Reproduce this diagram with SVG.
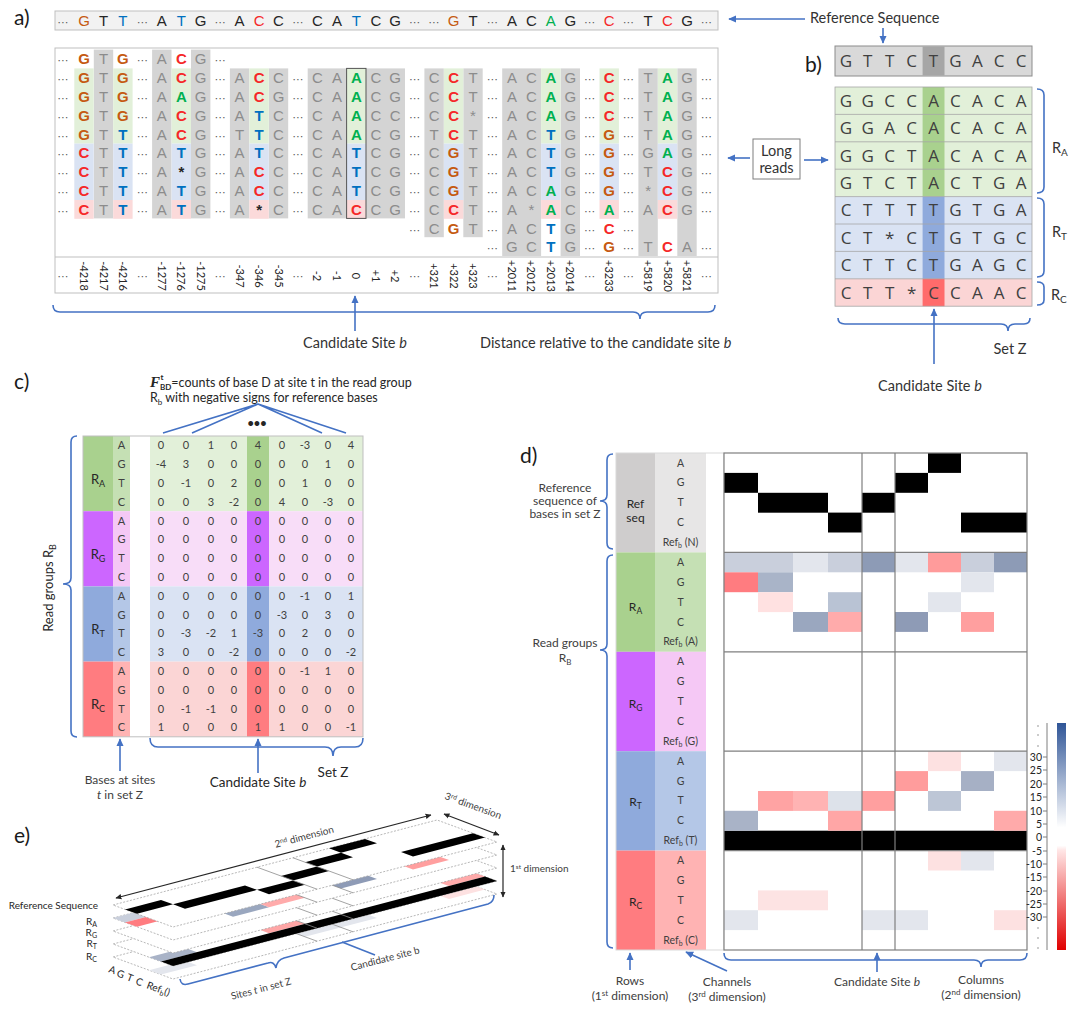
<svg xmlns="http://www.w3.org/2000/svg" width="1080" height="1014" viewBox="0 0 1080 1014">
<defs>
<style>
text{font-family:"Lato","Liberation Sans",sans-serif;fill:#262626}
.sq{font-family:"Liberation Sans",Arial,sans-serif;font-size:15px;text-anchor:middle;fill:#8C8C8C}
.rs{fill:#262626}
.a{fill:#00B050;font-weight:bold}
.c{fill:#F52828;font-weight:bold}
.g{fill:#C55A11;font-weight:bold}
.t{fill:#0070C0;font-weight:bold}
.k{fill:#262626;font-weight:bold}
.rs .a,.rs .c,.rs .g,.rs .t{font-weight:normal}
.d{font-family:"DejaVu Sans",sans-serif;font-size:11px;fill:#595959;font-weight:normal}
.ax{font-family:"Liberation Sans",sans-serif;font-size:11px;fill:#595959;text-anchor:middle}
.pn{font-size:21px;fill:#1a1a1a}
.lb{font-size:14.5px;fill:#333}
.bq{font-family:"Open Sans",sans-serif;font-size:17px;fill:#404040;text-anchor:middle}
.cn{font-size:11px;fill:#404040;text-anchor:middle}
.dl{font-size:10.5px;fill:#404040;text-anchor:middle}
.sm{font-size:12px;fill:#404040;text-anchor:middle}
.el{font-size:10px;fill:#404040}
.bl{stroke:#4472C4;stroke-width:1.6;fill:none}
.ar{stroke:#4472C4;stroke-width:1.6;fill:none;marker-end:url(#ab)}
.pl{fill:#ffffff;stroke:#A6A6A6;stroke-width:0.8;stroke-dasharray:2 1.5}
.cl{stroke:#8C8C8C;stroke-width:0.8}
.gl{stroke:#7F7F7F;stroke-width:1.2;fill:none}
</style>
<marker id="ab" viewBox="0 0 10 10" refX="9" refY="5" markerWidth="5" markerHeight="5" orient="auto-start-reverse"><path d="M0,0.5 L10,5 L0,9.5 z" fill="#4472C4"/></marker>
<marker id="ak" viewBox="0 0 10 10" refX="9" refY="5" markerWidth="5" markerHeight="5" orient="auto-start-reverse"><path d="M0,0.5 L10,5 L0,9.5 z" fill="#262626"/></marker>
<g id="vc"><rect x="0" y="68.4" width="19.4" height="75.2" fill="#E2F0D9"/><rect x="0" y="143.6" width="19.4" height="56.4" fill="#DAE3F3"/><rect x="0" y="200" width="19.4" height="18.8" fill="#FBDADA"/></g>
<linearGradient id="cb" x1="0" y1="0" x2="0" y2="1"><stop offset="0" stop-color="#2F5597"/><stop offset="0.46" stop-color="#FFFFFF"/><stop offset="0.54" stop-color="#FFFFFF"/><stop offset="0.56" stop-color="#FFE6E6"/><stop offset="1" stop-color="#E00000"/></linearGradient>
</defs>
<rect width="1080" height="1014" fill="#ffffff"/>

<!-- Panel a -->
<g id="panel-a">
<text class="pn" x="14" y="25">a)</text>
<g id="ref-seq-a">
<rect x="55" y="11" width="663" height="19" fill="#F2F2F2" stroke="#BFBFBF"/>
<text class="sq rs" y="26" x="63 84 103.5 122.9 142.4 161.8 181.3 200.7 220.2 239.6 259.1 278.5 298 317.4 336.9 356.3 375.8 395.2 414.7 434.1 453.6 473 492.5 511.9 531.4 550.8 570.3 589.7 609.2 628.6 648.1 667.5 687 706.4"><tspan class="d">⋯</tspan><tspan class="g">G</tspan>T<tspan class="t">T</tspan><tspan class="d">⋯</tspan>A<tspan class="t">T</tspan>G<tspan class="d">⋯</tspan>A<tspan class="c">C</tspan>C<tspan class="d">⋯</tspan>CA<tspan class="t">T</tspan>CG<tspan class="d">⋯⋯</tspan><tspan class="g">G</tspan>T<tspan class="d">⋯</tspan>AC<tspan class="a">A</tspan>G<tspan class="d">⋯</tspan><tspan class="c">C</tspan><tspan class="d">⋯</tspan>T<tspan class="c">C</tspan>G<tspan class="d">⋯</tspan></text>
</g>
<g id="reads-a">
<rect x="55" y="48" width="663" height="245" fill="#ffffff" stroke="#BFBFBF"/>
<g fill="#D4D4D4">
<rect x="93.8" y="49.6" width="19.4" height="168.8"/>
<rect x="152.1" y="49.6" width="19.4" height="168.8"/>
<rect x="191" y="49.6" width="19.4" height="168.8"/>
<rect x="229.9" y="68.4" width="19.4" height="150"/>
<rect x="268.8" y="68.4" width="19.4" height="150"/>
<rect x="307.7" y="68.4" width="38.9" height="150"/>
<rect x="366.1" y="68.4" width="38.9" height="150"/>
<rect x="424.4" y="68.4" width="19.4" height="168.8"/>
<rect x="463.3" y="68.4" width="19.4" height="168.8"/>
<rect x="502.2" y="68.4" width="38.9" height="187.6"/>
<rect x="560.6" y="68.4" width="19.4" height="187.6"/>
<rect x="638.4" y="68.4" width="19.4" height="187.6"/>
<rect x="677.3" y="68.4" width="19.4" height="187.6"/>
</g>
<use href="#vc" x="74.3"/><use href="#vc" x="113.2"/><use href="#vc" x="171.6"/><use href="#vc" x="249.4"/><use href="#vc" x="346.6"/><use href="#vc" x="443.9"/><use href="#vc" x="541.1"/><use href="#vc" x="599.5"/><use href="#vc" x="657.8"/>
<rect x="346.6" y="68.4" width="19.4" height="150" fill="none" stroke="#555" stroke-width="1"/>
<text class="sq" y="64.3" x="63 84 103.5 122.9 142.4 161.8 181.3 200.7 220.2"><tspan class="d">⋯</tspan><tspan class="g">G</tspan>T<tspan class="g">G</tspan><tspan class="d">⋯</tspan>A<tspan class="c">C</tspan>G<tspan class="d">⋯</tspan></text>
<text class="sq" y="83.1" x="63 84 103.5 122.9 142.4 161.8 181.3 200.7 220.2 239.6 259.1 278.5 298 317.4 336.9 356.3 375.8 395.2 414.7 434.1 453.6 473 492.5 511.9 531.4 550.8 570.3 589.7 609.2 628.6 648.1 667.5 687 706.4"><tspan class="d">⋯</tspan><tspan class="g">G</tspan>T<tspan class="g">G</tspan><tspan class="d">⋯</tspan>A<tspan class="c">C</tspan>G<tspan class="d">⋯</tspan>A<tspan class="c">C</tspan>C<tspan class="d">⋯</tspan>CA<tspan class="a">A</tspan>CG<tspan class="d">⋯</tspan>C<tspan class="c">C</tspan>T<tspan class="d">⋯</tspan>AC<tspan class="a">A</tspan>G<tspan class="d">⋯</tspan><tspan class="c">C</tspan><tspan class="d">⋯</tspan>T<tspan class="a">A</tspan>G<tspan class="d">⋯</tspan></text>
<text class="sq" y="101.9" x="63 84 103.5 122.9 142.4 161.8 181.3 200.7 220.2 239.6 259.1 278.5 298 317.4 336.9 356.3 375.8 395.2 414.7 434.1 453.6 473 492.5 511.9 531.4 550.8 570.3 589.7 609.2 628.6 648.1 667.5 687 706.4"><tspan class="d">⋯</tspan><tspan class="g">G</tspan>T<tspan class="g">G</tspan><tspan class="d">⋯</tspan>A<tspan class="a">A</tspan>G<tspan class="d">⋯</tspan>A<tspan class="c">C</tspan>G<tspan class="d">⋯</tspan>CA<tspan class="a">A</tspan>CG<tspan class="d">⋯</tspan>C<tspan class="c">C</tspan>T<tspan class="d">⋯</tspan>AC<tspan class="a">A</tspan>G<tspan class="d">⋯</tspan><tspan class="c">C</tspan><tspan class="d">⋯</tspan>T<tspan class="a">A</tspan>G<tspan class="d">⋯</tspan></text>
<text class="sq" y="120.7" x="63 84 103.5 122.9 142.4 161.8 181.3 200.7 220.2 239.6 259.1 278.5 298 317.4 336.9 356.3 375.8 395.2 414.7 434.1 453.6 473 492.5 511.9 531.4 550.8 570.3 589.7 609.2 628.6 648.1 667.5 687 706.4"><tspan class="d">⋯</tspan><tspan class="g">G</tspan>T<tspan class="g">G</tspan><tspan class="d">⋯</tspan>A<tspan class="c">C</tspan>G<tspan class="d">⋯</tspan>A<tspan class="t">T</tspan>C<tspan class="d">⋯</tspan>CA<tspan class="a">A</tspan>CC<tspan class="d">⋯</tspan>C<tspan class="c">C</tspan>*<tspan class="d">⋯</tspan>AC<tspan class="a">A</tspan>G<tspan class="d">⋯</tspan><tspan class="c">C</tspan><tspan class="d">⋯</tspan>T<tspan class="a">A</tspan>G<tspan class="d">⋯</tspan></text>
<text class="sq" y="139.5" x="63 84 103.5 122.9 142.4 161.8 181.3 200.7 220.2 239.6 259.1 278.5 298 317.4 336.9 356.3 375.8 395.2 414.7 434.1 453.6 473 492.5 511.9 531.4 550.8 570.3 589.7 609.2 628.6 648.1 667.5 687 706.4"><tspan class="d">⋯</tspan><tspan class="g">G</tspan>T<tspan class="t">T</tspan><tspan class="d">⋯</tspan>A<tspan class="c">C</tspan>G<tspan class="d">⋯</tspan>T<tspan class="t">T</tspan>C<tspan class="d">⋯</tspan>CA<tspan class="a">A</tspan>CG<tspan class="d">⋯</tspan>T<tspan class="c">C</tspan>T<tspan class="d">⋯</tspan>AC<tspan class="t">T</tspan>G<tspan class="d">⋯</tspan><tspan class="g">G</tspan><tspan class="d">⋯</tspan>T<tspan class="a">A</tspan>G<tspan class="d">⋯</tspan></text>
<text class="sq" y="158.3" x="63 84 103.5 122.9 142.4 161.8 181.3 200.7 220.2 239.6 259.1 278.5 298 317.4 336.9 356.3 375.8 395.2 414.7 434.1 453.6 473 492.5 511.9 531.4 550.8 570.3 589.7 609.2 628.6 648.1 667.5 687 706.4"><tspan class="d">⋯</tspan><tspan class="c">C</tspan>T<tspan class="t">T</tspan><tspan class="d">⋯</tspan>A<tspan class="t">T</tspan>G<tspan class="d">⋯</tspan>A<tspan class="t">T</tspan>C<tspan class="d">⋯</tspan>CA<tspan class="t">T</tspan>CG<tspan class="d">⋯</tspan>C<tspan class="g">G</tspan>T<tspan class="d">⋯</tspan>AC<tspan class="t">T</tspan>G<tspan class="d">⋯</tspan><tspan class="g">G</tspan><tspan class="d">⋯</tspan>G<tspan class="a">A</tspan>G<tspan class="d">⋯</tspan></text>
<text class="sq" y="177.1" x="63 84 103.5 122.9 142.4 161.8 181.3 200.7 220.2 239.6 259.1 278.5 298 317.4 336.9 356.3 375.8 395.2 414.7 434.1 453.6 473 492.5 511.9 531.4 550.8 570.3 589.7 609.2 628.6 648.1 667.5 687 706.4"><tspan class="d">⋯</tspan><tspan class="c">C</tspan>T<tspan class="t">T</tspan><tspan class="d">⋯</tspan>A<tspan class="k">*</tspan>G<tspan class="d">⋯</tspan>A<tspan class="c">C</tspan>C<tspan class="d">⋯</tspan>CA<tspan class="t">T</tspan>CG<tspan class="d">⋯</tspan>C<tspan class="g">G</tspan>T<tspan class="d">⋯</tspan>AC<tspan class="t">T</tspan>G<tspan class="d">⋯</tspan><tspan class="g">G</tspan><tspan class="d">⋯</tspan>T<tspan class="c">C</tspan>G<tspan class="d">⋯</tspan></text>
<text class="sq" y="195.9" x="63 84 103.5 122.9 142.4 161.8 181.3 200.7 220.2 239.6 259.1 278.5 298 317.4 336.9 356.3 375.8 395.2 414.7 434.1 453.6 473 492.5 511.9 531.4 550.8 570.3 589.7 609.2 628.6 648.1 667.5 687 706.4"><tspan class="d">⋯</tspan><tspan class="c">C</tspan>T<tspan class="t">T</tspan><tspan class="d">⋯</tspan>A<tspan class="t">T</tspan>G<tspan class="d">⋯</tspan>A<tspan class="c">C</tspan>C<tspan class="d">⋯</tspan>CA<tspan class="t">T</tspan>CG<tspan class="d">⋯</tspan>C<tspan class="g">G</tspan>T<tspan class="d">⋯</tspan>AC<tspan class="a">A</tspan>G<tspan class="d">⋯</tspan><tspan class="g">G</tspan><tspan class="d">⋯</tspan>*<tspan class="c">C</tspan>G<tspan class="d">⋯</tspan></text>
<text class="sq" y="214.7" x="63 84 103.5 122.9 142.4 161.8 181.3 200.7 220.2 239.6 259.1 278.5 298 317.4 336.9 356.3 375.8 395.2 414.7 434.1 453.6 473 492.5 511.9 531.4 550.8 570.3 589.7 609.2 628.6 648.1 667.5 687 706.4"><tspan class="d">⋯</tspan><tspan class="c">C</tspan>T<tspan class="t">T</tspan><tspan class="d">⋯</tspan>A<tspan class="t">T</tspan>G<tspan class="d">⋯</tspan>A<tspan class="k">*</tspan>C<tspan class="d">⋯</tspan>CA<tspan class="c">C</tspan>CG<tspan class="d">⋯</tspan>C<tspan class="c">C</tspan>T<tspan class="d">⋯</tspan>A*<tspan class="a">A</tspan>C<tspan class="d">⋯</tspan><tspan class="a">A</tspan><tspan class="d">⋯</tspan>A<tspan class="c">C</tspan>G<tspan class="d">⋯</tspan></text>
<text class="sq" y="233.5" x="414.7 434.1 453.6 473 492.5 511.9 531.4 550.8 570.3 589.7 609.2 628.6"><tspan class="d">⋯</tspan>C<tspan class="g">G</tspan>T<tspan class="d">⋯</tspan>AC<tspan class="t">T</tspan>G<tspan class="d">⋯</tspan><tspan class="c">C</tspan><tspan class="d">⋯</tspan></text>
<text class="sq" y="252.3" x="492.5 511.9 531.4 550.8 570.3 589.7 609.2 628.6 648.1 667.5 687 706.4"><tspan class="d">⋯</tspan>GC<tspan class="t">T</tspan>G<tspan class="d">⋯</tspan><tspan class="g">G</tspan><tspan class="d">⋯</tspan>T<tspan class="c">C</tspan>A<tspan class="d">⋯</tspan></text>
<line x1="55" y1="257" x2="718" y2="257" stroke="#BFBFBF"/>
<g class="ax">
<text transform="translate(80,276) rotate(90)">-4218</text>
<text transform="translate(99.5,276) rotate(90)">-4217</text>
<text transform="translate(118.9,276) rotate(90)">-4216</text>
<text transform="translate(157.8,276) rotate(90)">-1277</text>
<text transform="translate(177.3,276) rotate(90)">-1276</text>
<text transform="translate(196.7,276) rotate(90)">-1275</text>
<text transform="translate(235.6,276) rotate(90)">-347</text>
<text transform="translate(255.1,276) rotate(90)">-346</text>
<text transform="translate(274.5,276) rotate(90)">-345</text>
<text transform="translate(313.4,276) rotate(90)">-2</text>
<text transform="translate(332.9,276) rotate(90)">-1</text>
<text transform="translate(352.3,276) rotate(90)">0</text>
<text transform="translate(371.8,276) rotate(90)">+1</text>
<text transform="translate(391.2,276) rotate(90)">+2</text>
<text transform="translate(430.1,276) rotate(90)">+321</text>
<text transform="translate(449.6,276) rotate(90)">+322</text>
<text transform="translate(469,276) rotate(90)">+323</text>
<text transform="translate(507.9,276) rotate(90)">+2011</text>
<text transform="translate(527.4,276) rotate(90)">+2012</text>
<text transform="translate(546.8,276) rotate(90)">+2013</text>
<text transform="translate(566.3,276) rotate(90)">+2014</text>
<text transform="translate(605.2,276) rotate(90)">+3233</text>
<text transform="translate(644.1,276) rotate(90)">+5819</text>
<text transform="translate(663.5,276) rotate(90)">+5820</text>
<text transform="translate(683,276) rotate(90)">+5821</text>
</g>
<text class="d" text-anchor="middle" y="280" x="63 142.4 220.2 298 414.7 492.5 589.7 628.6 706.4">⋯⋯⋯⋯⋯⋯⋯⋯⋯</text>
</g>
<g id="long-reads">
<rect x="753" y="139" width="47" height="40" fill="#ffffff" stroke="#7F7F7F"/>
<text class="lb" x="776.5" y="156" text-anchor="middle">Long</text>
<text class="lb" x="776.5" y="173" text-anchor="middle">reads</text>
</g>
<text class="lb" x="810" y="23">Reference Sequence</text>
<text class="lb" x="355" y="348" text-anchor="middle">Candidate Site <tspan font-style="italic">b</tspan></text>
<text class="lb" x="480" y="348">Distance relative to the candidate site <tspan font-style="italic">b</tspan></text>
</g>

<!-- Panel b -->
<g id="panel-b">
<text class="pn" x="805" y="72">b)</text>
<rect x="835" y="46" width="197" height="30" fill="#D9D9D9" stroke="#8C8C8C"/>
<rect x="922.6" y="46.5" width="21.9" height="29" fill="#A6A6A6"/>
<text class="bq" y="67" x="846 867.8 889.7 911.6 933.5 955.4 977.3 999.2 1021">GTTCTGACC</text>
<rect x="835" y="87" width="197" height="109.6" fill="#E2F0D9"/>
<rect x="835" y="196.6" width="197" height="82.2" fill="#DAE3F3"/>
<rect x="835" y="278.8" width="197" height="27.4" fill="#FBD5D5"/>
<rect x="922.6" y="87" width="21.9" height="109.6" fill="#A9D18E"/>
<rect x="922.6" y="196.6" width="21.9" height="82.2" fill="#8FAADC"/>
<rect x="922.6" y="278.8" width="21.9" height="27.4" fill="#FF6B6B"/>
<g stroke="#A6A6A6" stroke-width="0.8">
<line x1="835" y1="114.4" x2="1032" y2="114.4"/><line x1="835" y1="141.8" x2="1032" y2="141.8"/><line x1="835" y1="169.2" x2="1032" y2="169.2"/><line x1="835" y1="196.6" x2="1032" y2="196.6"/><line x1="835" y1="224" x2="1032" y2="224"/><line x1="835" y1="251.4" x2="1032" y2="251.4"/><line x1="835" y1="278.8" x2="1032" y2="278.8"/>
<rect x="835" y="87" width="197" height="219.2" fill="none"/>
</g>
<text class="bq" y="106.7" x="846 867.8 889.7 911.6 933.5 955.4 977.3 999.2 1021">GGCCACACA</text>
<text class="bq" y="134.1" x="846 867.8 889.7 911.6 933.5 955.4 977.3 999.2 1021">GGACACACA</text>
<text class="bq" y="161.5" x="846 867.8 889.7 911.6 933.5 955.4 977.3 999.2 1021">GGCTACACA</text>
<text class="bq" y="188.9" x="846 867.8 889.7 911.6 933.5 955.4 977.3 999.2 1021">GTCTACTGA</text>
<text class="bq" y="216.3" x="846 867.8 889.7 911.6 933.5 955.4 977.3 999.2 1021">CTTTTGTGA</text>
<text class="bq" y="243.7" x="846 867.8 889.7 911.6 933.5 955.4 977.3 999.2 1021">CT*CTGTGC</text>
<text class="bq" y="271.1" x="846 867.8 889.7 911.6 933.5 955.4 977.3 999.2 1021">CTTCTGAGC</text>
<text class="bq" y="298.5" x="846 867.8 889.7 911.6 933.5 955.4 977.3 999.2 1021">CTT*CCAAC</text>
<text class="lb" x="1052" y="153" font-size="15">R<tspan font-size="10" dy="3">A</tspan></text>
<text class="lb" x="1052" y="237" font-size="15">R<tspan font-size="10" dy="3">T</tspan></text>
<text class="lb" x="1051" y="300" font-size="15">R<tspan font-size="10" dy="3">C</tspan></text>
<text class="lb" x="1010" y="354" text-anchor="middle">Set Z</text>
<text class="lb" x="930" y="391" text-anchor="middle">Candidate Site <tspan font-style="italic">b</tspan></text>
</g>

<!-- Panel c -->
<g id="panel-c">
<text class="pn" x="14" y="389">c)</text>
<text x="150" y="387" font-size="12.5" fill="#262626"><tspan font-family="Liberation Serif,serif" font-style="italic" font-weight="bold" font-size="15">F</tspan><tspan font-size="8" font-weight="bold" dy="3">BD</tspan><tspan font-size="8" font-weight="bold" dx="-11" dy="-10">t</tspan><tspan dx="8" dy="7">=counts of base D at site t in the read group</tspan></text>
<text x="150" y="402" font-size="12.5" fill="#262626">R<tspan font-size="8" dy="3">b</tspan><tspan dy="-3"> with negative signs for reference bases</tspan></text>
<text x="257" y="427" font-size="11" fill="#4472C4" text-anchor="middle" font-weight="bold">•••</text>
<g id="table-c">
<rect x="83" y="436" width="30" height="75.2" fill="#A9D18E"/>
<rect x="83" y="511.2" width="30" height="75.2" fill="#CC66FF"/>
<rect x="83" y="586.4" width="30" height="75.2" fill="#8FAADC"/>
<rect x="83" y="661.6" width="30" height="75.2" fill="#FF7C80"/>
<rect x="113" y="436" width="17" height="75.2" fill="#C5E0B4"/>
<rect x="113" y="511.2" width="17" height="75.2" fill="#F5C8F5"/>
<rect x="113" y="586.4" width="17" height="75.2" fill="#B4C7E7"/>
<rect x="113" y="661.6" width="17" height="75.2" fill="#FFB3B3"/>
<rect x="150" y="436" width="213" height="75.2" fill="#E2F0D9"/>
<rect x="150" y="511.2" width="213" height="75.2" fill="#F8DDF8"/>
<rect x="150" y="586.4" width="213" height="75.2" fill="#DAE3F3"/>
<rect x="150" y="661.6" width="213" height="75.2" fill="#FBD5D5"/>
<rect x="247" y="436" width="22" height="75.2" fill="#A9D18E"/>
<rect x="247" y="511.2" width="22" height="75.2" fill="#CC66FF"/>
<rect x="247" y="586.4" width="22" height="75.2" fill="#8FAADC"/>
<rect x="247" y="661.6" width="22" height="75.2" fill="#FF7C80"/>
<rect x="83" y="436" width="280" height="300.8" fill="none" stroke="#BFBFBF"/>
<text font-size="13" x="98" y="484" text-anchor="middle">R<tspan font-size="9" dy="3">A</tspan></text>
<text font-size="13" x="98" y="559" text-anchor="middle">R<tspan font-size="9" dy="3">G</tspan></text>
<text font-size="13" x="98" y="634" text-anchor="middle">R<tspan font-size="9" dy="3">T</tspan></text>
<text font-size="13" x="98" y="709" text-anchor="middle">R<tspan font-size="9" dy="3">C</tspan></text>
<text class="cn" x="121.5 121.5 121.5 121.5" y="449.4 468.2 487 505.8">AGTC</text>
<text class="cn" x="121.5 121.5 121.5 121.5" y="524.6 543.4 562.2 581">AGTC</text>
<text class="cn" x="121.5 121.5 121.5 121.5" y="599.8 618.6 637.4 656.2">AGTC</text>
<text class="cn" x="121.5 121.5 121.5 121.5" y="675 693.8 712.6 731.4">AGTC</text>
<text class="cn" y="449.4"><tspan x="161">0</tspan><tspan x="186">0</tspan><tspan x="211">1</tspan><tspan x="234">0</tspan><tspan x="258">4</tspan><tspan x="282">0</tspan><tspan x="305">-3</tspan><tspan x="328">0</tspan><tspan x="351">4</tspan></text>
<text class="cn" y="468.2"><tspan x="161">-4</tspan><tspan x="186">3</tspan><tspan x="211">0</tspan><tspan x="234">0</tspan><tspan x="258">0</tspan><tspan x="282">0</tspan><tspan x="305">0</tspan><tspan x="328">1</tspan><tspan x="351">0</tspan></text>
<text class="cn" y="487"><tspan x="161">0</tspan><tspan x="186">-1</tspan><tspan x="211">0</tspan><tspan x="234">2</tspan><tspan x="258">0</tspan><tspan x="282">0</tspan><tspan x="305">1</tspan><tspan x="328">0</tspan><tspan x="351">0</tspan></text>
<text class="cn" y="505.8"><tspan x="161">0</tspan><tspan x="186">0</tspan><tspan x="211">3</tspan><tspan x="234">-2</tspan><tspan x="258">0</tspan><tspan x="282">4</tspan><tspan x="305">0</tspan><tspan x="328">-3</tspan><tspan x="351">0</tspan></text>
<text class="cn" y="524.6" x="161 186 211 234 258 282 305 328 351">000000000</text>
<text class="cn" y="543.4" x="161 186 211 234 258 282 305 328 351">000000000</text>
<text class="cn" y="562.2" x="161 186 211 234 258 282 305 328 351">000000000</text>
<text class="cn" y="581" x="161 186 211 234 258 282 305 328 351">000000000</text>
<text class="cn" y="599.8"><tspan x="161">0</tspan><tspan x="186">0</tspan><tspan x="211">0</tspan><tspan x="234">0</tspan><tspan x="258">0</tspan><tspan x="282">0</tspan><tspan x="305">-1</tspan><tspan x="328">0</tspan><tspan x="351">1</tspan></text>
<text class="cn" y="618.6"><tspan x="161">0</tspan><tspan x="186">0</tspan><tspan x="211">0</tspan><tspan x="234">0</tspan><tspan x="258">0</tspan><tspan x="282">-3</tspan><tspan x="305">0</tspan><tspan x="328">3</tspan><tspan x="351">0</tspan></text>
<text class="cn" y="637.4"><tspan x="161">0</tspan><tspan x="186">-3</tspan><tspan x="211">-2</tspan><tspan x="234">1</tspan><tspan x="258">-3</tspan><tspan x="282">0</tspan><tspan x="305">2</tspan><tspan x="328">0</tspan><tspan x="351">0</tspan></text>
<text class="cn" y="656.2"><tspan x="161">3</tspan><tspan x="186">0</tspan><tspan x="211">0</tspan><tspan x="234">-2</tspan><tspan x="258">0</tspan><tspan x="282">0</tspan><tspan x="305">0</tspan><tspan x="328">0</tspan><tspan x="351">-2</tspan></text>
<text class="cn" y="675"><tspan x="161">0</tspan><tspan x="186">0</tspan><tspan x="211">0</tspan><tspan x="234">0</tspan><tspan x="258">0</tspan><tspan x="282">0</tspan><tspan x="305">-1</tspan><tspan x="328">1</tspan><tspan x="351">0</tspan></text>
<text class="cn" y="693.8" x="161 186 211 234 258 282 305 328 351">000000000</text>
<text class="cn" y="712.6"><tspan x="161">0</tspan><tspan x="186">-1</tspan><tspan x="211">-1</tspan><tspan x="234">0</tspan><tspan x="258">0</tspan><tspan x="282">0</tspan><tspan x="305">0</tspan><tspan x="328">0</tspan><tspan x="351">0</tspan></text>
<text class="cn" y="731.4"><tspan x="161">1</tspan><tspan x="186">0</tspan><tspan x="211">0</tspan><tspan x="234">0</tspan><tspan x="258">1</tspan><tspan x="282">1</tspan><tspan x="305">0</tspan><tspan x="328">0</tspan><tspan x="351">-1</tspan></text>
</g>
<text font-size="13" fill="#333" text-anchor="middle" transform="translate(53,588) rotate(-90)">Read groups R<tspan font-size="9" dy="3">B</tspan></text>
<text class="sm" x="120" y="784">Bases at sites</text>
<text class="sm" x="120" y="799"><tspan font-style="italic">t</tspan> in set Z</text>
<text x="258" y="787" font-size="13.5" fill="#333" text-anchor="middle">Candidate Site <tspan font-style="italic">b</tspan></text>
<text x="333" y="777" font-size="13.5" fill="#333" text-anchor="middle">Set Z</text>
</g>

<!-- Panel d -->
<g id="panel-d">
<text class="pn" x="520" y="463">d)</text>
<rect x="616" y="453" width="39" height="99.4" fill="#CFCDCD"/>
<rect x="616" y="552.4" width="39" height="99.4" fill="#A9D18E"/>
<rect x="616" y="651.8" width="39" height="99.4" fill="#CC66FF"/>
<rect x="616" y="751.2" width="39" height="99.4" fill="#8FAADC"/>
<rect x="616" y="850.6" width="39" height="99.4" fill="#FF7C80"/>
<rect x="655" y="453" width="51" height="99.4" fill="#E7E6E6"/>
<rect x="655" y="552.4" width="51" height="99.4" fill="#C5E0B4"/>
<rect x="655" y="651.8" width="51" height="99.4" fill="#F5C8F5"/>
<rect x="655" y="751.2" width="51" height="99.4" fill="#B4C7E7"/>
<rect x="655" y="850.6" width="51" height="99.4" fill="#FFB3B3"/>
<rect x="616" y="453" width="108" height="497" fill="none" stroke="#D9D9D9"/>
<text font-size="12" x="635.5" y="508" text-anchor="middle">Ref</text>
<text font-size="12" x="635.5" y="522" text-anchor="middle">seq</text>
<text font-size="12" x="635.5" y="611" text-anchor="middle">R<tspan font-size="8.5" dy="3">A</tspan></text>
<text font-size="12" x="635.5" y="708" text-anchor="middle">R<tspan font-size="8.5" dy="3">G</tspan></text>
<text font-size="12" x="635.5" y="806" text-anchor="middle">R<tspan font-size="8.5" dy="3">T</tspan></text>
<text font-size="12" x="635.5" y="906" text-anchor="middle">R<tspan font-size="8.5" dy="3">C</tspan></text>
<text class="dl" x="680.5 680.5 680.5 680.5" y="466.5 486.3 506.2 526">AGTC</text>
<text class="dl" x="680.5 680.5 680.5 680.5" y="565.8 585.7 605.6 625.5">AGTC</text>
<text class="dl" x="680.5 680.5 680.5 680.5" y="665.2 685.1 705 724.9">AGTC</text>
<text class="dl" x="680.5 680.5 680.5 680.5" y="764.6 784.5 804.4 824.3">AGTC</text>
<text class="dl" x="680.5 680.5 680.5 680.5" y="864 883.9 903.8 923.7">AGTC</text>
<text class="dl" x="680.5" y="546">Ref<tspan font-size="7" dy="2">b</tspan><tspan dy="-2"> (N)</tspan></text>
<text class="dl" x="680.5" y="645.3">Ref<tspan font-size="7" dy="2">b</tspan><tspan dy="-2"> (A)</tspan></text>
<text class="dl" x="680.5" y="744.7">Ref<tspan font-size="7" dy="2">b</tspan><tspan dy="-2"> (G)</tspan></text>
<text class="dl" x="680.5" y="844.1">Ref<tspan font-size="7" dy="2">b</tspan><tspan dy="-2"> (T)</tspan></text>
<text class="dl" x="680.5" y="943.5">Ref<tspan font-size="7" dy="2">b</tspan><tspan dy="-2"> (C)</tspan></text>
<g id="heatmap">
<rect x="724" y="453" width="303" height="497" fill="#ffffff"/>
<g fill="#000000">
<rect x="724" y="472.9" width="34" height="19.9"/>
<rect x="758" y="492.8" width="70" height="19.9"/>
<rect x="828" y="512.6" width="34" height="19.9"/>
<rect x="862" y="492.8" width="33" height="19.9"/>
<rect x="895" y="472.9" width="33" height="19.9"/>
<rect x="928" y="453" width="33" height="19.9"/>
<rect x="961" y="512.6" width="66" height="19.9"/>
<rect x="724" y="830.7" width="303" height="19.9"/>
</g>
<rect x="724" y="552.4" width="69" height="19.9" fill="#C9CFDC"/>
<rect x="793" y="552.4" width="35" height="19.9" fill="#E3E6ED"/>
<rect x="828" y="552.4" width="34" height="19.9" fill="#C9CFDC"/>
<rect x="862" y="552.4" width="33" height="19.9" fill="#8D9BB6"/>
<rect x="895" y="552.4" width="33" height="19.9" fill="#E3E6ED"/>
<rect x="928" y="552.4" width="33" height="19.9" fill="#FF9B9B"/>
<rect x="961" y="552.4" width="33" height="19.9" fill="#C9CFDC"/>
<rect x="994" y="552.4" width="33" height="19.9" fill="#8D9BB6"/>
<rect x="724" y="572.3" width="34" height="19.9" fill="#FF7C80"/>
<rect x="758" y="572.3" width="35" height="19.9" fill="#A9B4C8"/>
<rect x="961" y="572.3" width="33" height="19.9" fill="#E3E6ED"/>
<rect x="758" y="592.2" width="35" height="19.9" fill="#FFE1E1"/>
<rect x="828" y="592.2" width="34" height="19.9" fill="#B9C3D4"/>
<rect x="928" y="592.2" width="33" height="19.9" fill="#E3E6ED"/>
<rect x="793" y="612" width="35" height="19.9" fill="#9AA7BF"/>
<rect x="828" y="612" width="34" height="19.9" fill="#FFABAB"/>
<rect x="895" y="612" width="33" height="19.9" fill="#8E9BB6"/>
<rect x="961" y="612" width="33" height="19.9" fill="#FF9F9F"/>
<rect x="928" y="751.2" width="33" height="19.9" fill="#FDE1E1"/>
<rect x="994" y="751.2" width="33" height="19.9" fill="#E3E6ED"/>
<rect x="895" y="771.1" width="33" height="19.9" fill="#FF9C9C"/>
<rect x="961" y="771.1" width="33" height="19.9" fill="#A6B0C5"/>
<rect x="758" y="791" width="35" height="19.9" fill="#FFA3A3"/>
<rect x="793" y="791" width="35" height="19.9" fill="#FFB3B3"/>
<rect x="828" y="791" width="34" height="19.9" fill="#DDE2EA"/>
<rect x="862" y="791" width="33" height="19.9" fill="#FF9F9F"/>
<rect x="928" y="791" width="33" height="19.9" fill="#BDC6D6"/>
<rect x="724" y="810.8" width="34" height="19.9" fill="#A9B3C7"/>
<rect x="828" y="810.8" width="34" height="19.9" fill="#FFA6A6"/>
<rect x="994" y="810.8" width="33" height="19.9" fill="#FFAAAA"/>
<rect x="928" y="850.6" width="33" height="19.9" fill="#FDE1E1"/>
<rect x="961" y="850.6" width="33" height="19.9" fill="#E3E6ED"/>
<rect x="758" y="890.4" width="70" height="19.9" fill="#FDE3E3"/>
<rect x="724" y="910.2" width="34" height="19.9" fill="#E3E6ED"/>
<rect x="862" y="910.2" width="66" height="19.9" fill="#E3E6ED"/>
<rect x="994" y="910.2" width="33" height="19.9" fill="#FDE1E1"/>
<g class="gl">
<rect x="724" y="453" width="303" height="497"/>
<line x1="724" y1="552.4" x2="1027" y2="552.4"/>
<line x1="724" y1="651.8" x2="1027" y2="651.8"/>
<line x1="724" y1="751.2" x2="1027" y2="751.2"/>
<line x1="724" y1="850.6" x2="1027" y2="850.6"/>
<line x1="862" y1="453" x2="862" y2="950"/>
<line x1="895" y1="453" x2="895" y2="950"/>
</g>
</g>
<g id="colorbar">
<rect x="1057" y="723" width="9" height="227" fill="url(#cb)"/>
<line x1="1047" y1="723" x2="1047" y2="950" stroke="#7F7F7F"/>
<path d="M1043,757h4M1043,770h4M1043,784h4M1043,797h4M1043,811h4M1043,824h4M1043,837h4M1043,851h4M1043,864h4M1043,877h4M1043,891h4M1043,904h4M1043,917h4" stroke="#7F7F7F"/>
<g font-size="10.5" fill="#595959" text-anchor="end">
<text x="1042" y="760.5">30</text><text x="1042" y="773.5">25</text><text x="1042" y="787.5">20</text><text x="1042" y="800.5">15</text><text x="1042" y="814.5">10</text><text x="1042" y="827.5">5</text><text x="1042" y="840.5">0</text><text x="1042" y="854.5">-5</text><text x="1042" y="867.5">-10</text><text x="1042" y="880.5">-15</text><text x="1042" y="894.5">-20</text><text x="1042" y="907.5">-25</text><text x="1042" y="920.5">-30</text>
</g>
<g fill="#8C8C8C"><circle cx="1038" cy="726" r="0.8"/><circle cx="1038" cy="735" r="0.8"/><circle cx="1038" cy="746" r="0.8"/><circle cx="1038" cy="928" r="0.8"/><circle cx="1038" cy="938" r="0.8"/><circle cx="1038" cy="948" r="0.8"/></g>
</g>
<text class="sm" font-size="11.5" x="565" y="492">Reference</text>
<text class="sm" font-size="11.5" x="565" y="505">sequence of</text>
<text class="sm" font-size="11.5" x="565" y="518">bases in set Z</text>
<text class="sm" x="565" y="647">Read groups</text>
<text class="sm" x="565" y="662">R<tspan font-size="8" dy="3">B</tspan></text>
<text class="sm" x="630" y="985">Rows</text>
<text class="sm" x="630" y="1000">(1<tspan font-size="8" dy="-4">st</tspan><tspan dy="4"> dimension)</tspan></text>
<text class="sm" x="727" y="986">Channels</text>
<text class="sm" x="727" y="1001">(3<tspan font-size="8" dy="-4">rd</tspan><tspan dy="4"> dimension)</tspan></text>
<text class="sm" x="877" y="986">Candidate Site <tspan font-style="italic">b</tspan></text>
<text class="sm" x="981" y="984">Columns</text>
<text class="sm" x="981" y="999">(2<tspan font-size="8" dy="-4">nd</tspan><tspan dy="4"> dimension)</tspan></text>
</g>

<!-- Panel e -->
<g id="panel-e">
<text class="pn" x="14" y="843">e)</text>
<g id="plane-RC">
<polygon class="pl" points="113,957 437,872 497,894 173,979"/>
<g transform="matrix(36,-9.444,12,4.4,113,957)">
<rect x="6" y="0" width="1" height="1" fill="#FDE1E1"/><rect x="7" y="0" width="1" height="1" fill="#E3E6ED"/>
<rect x="1" y="2" width="2" height="1" fill="#FDE3E3"/>
<rect x="0" y="3" width="1" height="1" fill="#E3E6ED"/><rect x="4" y="3" width="2" height="1" fill="#E3E6ED"/><rect x="8" y="3" width="1" height="1" fill="#FDE1E1"/>
</g>
<path class="cl" d="M257,919.2L317,941.2M293,909.8L353,931.8"/>
</g>
<g id="plane-RT">
<polygon class="pl" points="113,944 437,859 497,881 173,966"/>
<g transform="matrix(36,-9.444,12,4.4,113,944)">
<rect x="6" y="0" width="1" height="1" fill="#FDE1E1"/><rect x="8" y="0" width="1" height="1" fill="#E3E6ED"/>
<rect x="5" y="1" width="1" height="1" fill="#FF9C9C"/><rect x="7" y="1" width="1" height="1" fill="#A6B0C5"/>
<rect x="1" y="2" width="1" height="1" fill="#FFA3A3"/><rect x="2" y="2" width="1" height="1" fill="#FFB3B3"/><rect x="3" y="2" width="1" height="1" fill="#DDE2EA"/><rect x="4" y="2" width="1" height="1" fill="#FF9F9F"/><rect x="6" y="2" width="1" height="1" fill="#BDC6D6"/>
<rect x="0" y="3" width="1" height="1" fill="#A9B3C7"/><rect x="3" y="3" width="1" height="1" fill="#FFA6A6"/><rect x="8" y="3" width="1" height="1" fill="#FFAAAA"/>
<rect x="0" y="4" width="9" height="1" fill="#000000"/>
</g>
<path class="cl" d="M257,906.2L317,928.2M293,896.8L353,918.8"/>
</g>
<g id="plane-RG">
<polygon class="pl" points="113,931 437,846 497,868 173,953"/>
<path class="cl" d="M257,893.2L317,915.2M293,883.8L353,905.8"/>
</g>
<g id="plane-RA">
<polygon class="pl" points="113,918 437,833 497,855 173,940"/>
<g transform="matrix(36,-9.444,12,4.4,113,918)">
<rect x="0" y="0" width="2" height="1" fill="#C9CFDC"/><rect x="2" y="0" width="1" height="1" fill="#E3E6ED"/><rect x="3" y="0" width="1" height="1" fill="#C9CFDC"/><rect x="4" y="0" width="1" height="1" fill="#8D9BB6"/><rect x="5" y="0" width="1" height="1" fill="#E3E6ED"/><rect x="6" y="0" width="1" height="1" fill="#FF9B9B"/><rect x="7" y="0" width="1" height="1" fill="#C9CFDC"/><rect x="8" y="0" width="1" height="1" fill="#8D9BB6"/>
<rect x="0" y="1" width="1" height="1" fill="#FF7C80"/><rect x="1" y="1" width="1" height="1" fill="#A9B4C8"/><rect x="7" y="1" width="1" height="1" fill="#E3E6ED"/>
<rect x="1" y="2" width="1" height="1" fill="#FFE1E1"/><rect x="3" y="2" width="1" height="1" fill="#B9C3D4"/><rect x="6" y="2" width="1" height="1" fill="#E3E6ED"/>
<rect x="2" y="3" width="1" height="1" fill="#9AA7BF"/><rect x="3" y="3" width="1" height="1" fill="#FFABAB"/><rect x="5" y="3" width="1" height="1" fill="#8E9BB6"/><rect x="7" y="3" width="1" height="1" fill="#FF9F9F"/>
</g>
<path class="cl" d="M257,880.2L317,902.2M293,870.8L353,892.8"/>
</g>
<g id="plane-Ref">
<polygon class="pl" points="113,905 437,820 497,842 173,927"/>
<g transform="matrix(36,-9.444,12,4.4,113,905)" fill="#000000">
<rect x="0" y="1" width="1" height="1"/><rect x="1" y="2" width="2" height="1"/><rect x="3" y="3" width="1" height="1"/><rect x="4" y="2" width="1" height="1"/><rect x="5" y="1" width="1" height="1"/><rect x="6" y="0" width="1" height="1"/><rect x="7" y="3" width="2" height="1"/>
</g>
<path class="cl" d="M257,867.2L317,889.2M293,857.8L353,879.8"/>
</g>
<g class="el" text-anchor="end">
<text x="98" y="909">Reference Sequence</text>
<text x="97" y="925">R<tspan font-size="7" dy="2">A</tspan></text>
<text x="97" y="936">R<tspan font-size="7" dy="2">G</tspan></text>
<text x="97" y="947">R<tspan font-size="7" dy="2">T</tspan></text>
<text x="97" y="960">R<tspan font-size="7" dy="2">C</tspan></text>
</g>
<g class="el">
<text transform="translate(108,972) rotate(20)">A</text>
<text transform="translate(116,976) rotate(20)">G</text>
<text transform="translate(126,980) rotate(20)">T</text>
<text transform="translate(135,984) rotate(20)">C</text>
<text transform="translate(146,988) rotate(20)">Ref<tspan font-size="7" dy="2">b</tspan><tspan dy="-2">()</tspan></text>
</g>
<text class="el" text-anchor="middle" transform="translate(305,840) rotate(-14.7)">2<tspan font-size="6.5" dy="-3">nd</tspan><tspan dy="3"> dimension</tspan></text>
<text class="el" text-anchor="middle" transform="translate(472,809) rotate(20)">3<tspan font-size="6.5" dy="-3">rd</tspan><tspan dy="3"> dimension</tspan></text>
<text class="el" x="510" y="872">1<tspan font-size="6.5" dy="-3">st</tspan><tspan dy="3"> dimension</tspan></text>
<text class="el" text-anchor="middle" transform="translate(262,992) rotate(-14.7)">Sites <tspan font-style="italic">t</tspan> in set Z</text>
<text class="el" text-anchor="middle" transform="translate(386,962) rotate(-14.7)">Candidate site b</text>
<g stroke="#262626" stroke-width="1.2" fill="none" marker-start="url(#ak)" marker-end="url(#ak)">
<line x1="116" y1="898" x2="431" y2="815"/>
<line x1="444" y1="814" x2="499" y2="835"/>
<line x1="503" y1="845" x2="503" y2="897"/>
</g>
</g>

<!-- Connectors -->
<g id="connectors">
<line class="ar" x1="805" y1="19" x2="729" y2="19"/>
<line class="ar" x1="883" y1="28" x2="883" y2="43"/>
<line class="ar" x1="750" y1="158" x2="728" y2="158"/>
<line class="ar" x1="804" y1="160" x2="828" y2="160"/>
<line class="ar" x1="355" y1="331" x2="355" y2="296"/>
<path class="bl" d="M53,305 Q53,312 60,312 L633,312 Q640,312 640,319 Q640,312 647,312 L708,312 Q715,312 715,305"/>
<path class="bl" d="M1037,89 Q1044,89 1044,95 L1044,187 Q1044,193 1037,193"/>
<path class="bl" d="M1037,198 Q1044,198 1044,204 L1044,271 Q1044,277 1037,277"/>
<path class="bl" d="M1037,282 Q1044,282 1044,287 L1044,300 Q1044,305 1037,305"/>
<path class="bl" d="M838,318 Q838,324 845,324 L1001,324 Q1008,324 1008,331 Q1008,324 1015,324 L1024,324 Q1030,324 1030,318"/>
<line class="ar" x1="934" y1="364" x2="934" y2="309"/>
<path class="bl" d="M258,404 L163,433 M258,404 L192,433 M258,404 L322,433 M258,404 L346,433"/>
<path class="bl" d="M77,436 Q71,436 71,442 L71,578 Q71,584 63,584 Q71,584 71,590 L71,731 Q71,737 77,737"/>
<path class="bl" d="M150,738 Q150,747 158,747 L325,747 Q333,747 333,756 Q333,747 341,747 L355,747 Q363,747 363,738"/>
<line class="ar" x1="120" y1="771" x2="120" y2="739"/>
<line class="ar" x1="258" y1="773" x2="258" y2="739"/>
<path class="bl" d="M613,454 Q607,454 607,460 L607,495 Q607,501 600,501 Q607,501 607,507 L607,543 Q607,549 613,549"/>
<path class="bl" d="M613,555 Q607,555 607,561 L607,644 Q607,650 600,650 Q607,650 607,656 L607,942 Q607,948 613,948"/>
<path class="bl" d="M724,953 Q724,960 731,960 L974,960 Q981,960 981,967 Q981,960 988,960 L1020,960 Q1027,960 1027,953"/>
<line class="ar" x1="630" y1="970" x2="630" y2="953"/>
<line class="ar" x1="727" y1="971" x2="686" y2="952"/>
<line class="ar" x1="877" y1="972" x2="877" y2="953"/>
<path class="bl" d="M180,979 Q181,986 188,984 L268,963 Q274,961 276,968 Q277,960 284,958 L488,904 Q494,902 494,895"/>
<line class="bl" x1="342" y1="942" x2="375" y2="955"/>
</g>
</svg>
